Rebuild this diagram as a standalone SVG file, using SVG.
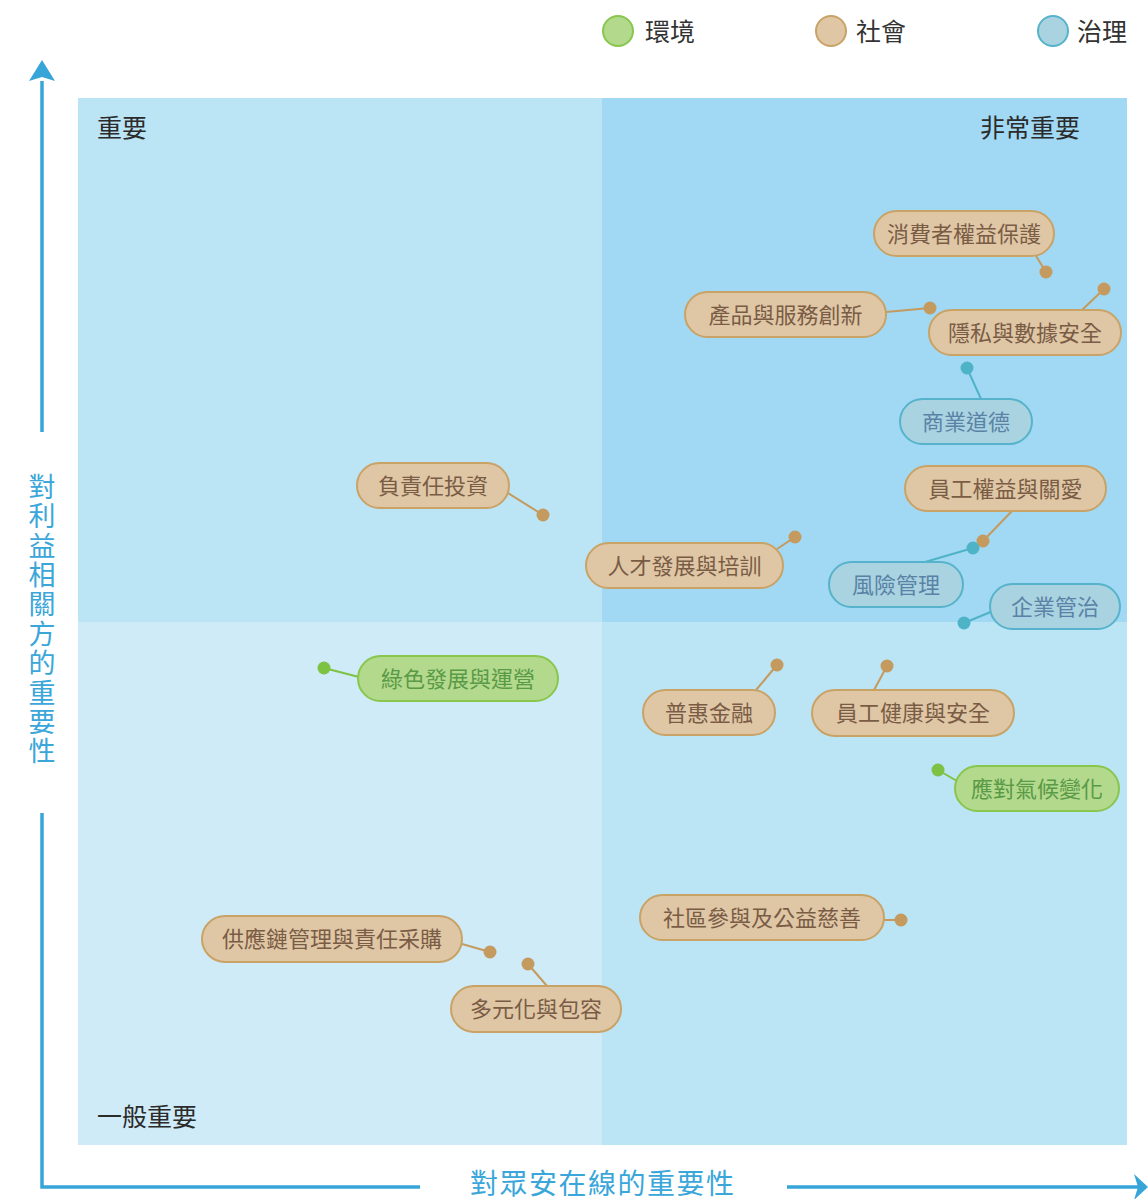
<svg xmlns="http://www.w3.org/2000/svg" width="1148" height="1199" viewBox="0 0 1148 1199">
<defs>
<style>
text{font-family:"Noto Sans CJK TC","Noto Sans CJK SC",sans-serif}
.soc rect{fill:#dfc7a6;stroke:#c9a266;stroke-width:2}
.soc text{fill:#7a5c45}
.gov rect{fill:#a9d3e0;stroke:#56b3cb;stroke-width:2}
.gov text{fill:#5a82a6}
.env rect{fill:#b3d98d;stroke:#88c64e;stroke-width:2}
.env text{fill:#5a9a47}
.pill text{font-size:22px;text-anchor:middle}
.lsoc{stroke:#c49a5e;stroke-width:2;fill:none}
.lgov{stroke:#4fb3c8;stroke-width:2;fill:none}
.lenv{stroke:#7dc242;stroke-width:2;fill:none}
.dsoc{fill:#c49a5e}
.dgov{fill:#4fb3c8}
.denv{fill:#7dc242}
.ql{font-size:25px;fill:#2b2b2b}
.lg{font-size:25px;fill:#333333}
.axv{font-size:27px;fill:#3aa6d9;writing-mode:vertical-rl;text-orientation:upright;letter-spacing:2.4px}
.axl{stroke:#37a5d8;stroke-width:3.5;fill:none}
</style>
</defs>
<rect width="1148" height="1199" fill="#ffffff"/>
<g id="quadrants">
<rect x="78" y="98" width="524" height="524" fill="#bbe4f5"/>
<rect x="602" y="98" width="525" height="524" fill="#a1d8f4"/>
<rect x="78" y="622" width="524" height="523" fill="#cfebf7"/>
<rect x="602" y="622" width="525" height="523" fill="#bbe4f5"/>
<text class="ql" x="97" y="137">重要</text>
<text class="ql" x="1080" y="137" text-anchor="end">非常重要</text>
<text class="ql" x="97" y="1126">一般重要</text>
</g>
<g id="legend">
<circle cx="618" cy="31" r="15" fill="#b3d98d" stroke="#88c64e" stroke-width="2"/>
<text class="lg" x="645" y="41">環境</text>
<circle cx="831" cy="31" r="15" fill="#dfc7a6" stroke="#c9a266" stroke-width="2"/>
<text class="lg" x="856" y="41">社會</text>
<circle cx="1053" cy="31" r="15" fill="#a9d3e0" stroke="#56b3cb" stroke-width="2"/>
<text class="lg" x="1077" y="41">治理</text>
</g>
<g id="axes">
<path class="axl" d="M42 81 V432 M42 813 V1187 H420 M787 1187 H1138"/>
<polygon points="42,60 55,81 42,77 29,81" fill="#37a5d8"/>
<polygon points="1148,1187 1134,1174 1138,1187 1134,1200" fill="#37a5d8"/>
<text class="axv" x="42" y="473">對利益相關方的重要性</text>
<text x="470" y="1194" font-size="28" fill="#3aa6d9" letter-spacing="1.5">對眾安在線的重要性</text>
</g>
<g id="connectors">
<line class="lsoc" x1="1036" y1="256" x2="1046" y2="272"/><circle class="dsoc" cx="1046" cy="272" r="6.5"/>
<line class="lsoc" x1="886" y1="312" x2="930" y2="308"/><circle class="dsoc" cx="930" cy="308" r="6.5"/>
<line class="lsoc" x1="1082" y1="310" x2="1104" y2="289"/><circle class="dsoc" cx="1104" cy="289" r="6.5"/>
<line class="lgov" x1="981" y1="399" x2="967" y2="368"/><circle class="dgov" cx="967" cy="368" r="6.5"/>
<line class="lsoc" x1="508" y1="493" x2="543" y2="515"/><circle class="dsoc" cx="543" cy="515" r="6.5"/>
<line class="lsoc" x1="1012" y1="511" x2="983" y2="541"/><circle class="dsoc" cx="983" cy="541" r="6.5"/>
<line class="lsoc" x1="777" y1="549" x2="795" y2="537"/><circle class="dsoc" cx="795" cy="537" r="6.5"/>
<line class="lgov" x1="925" y1="562" x2="973" y2="548"/><circle class="dgov" cx="973" cy="548" r="6.5"/>
<line class="lgov" x1="993" y1="611" x2="964" y2="623"/><circle class="dgov" cx="964" cy="623" r="6.5"/>
<line class="lenv" x1="359" y1="677" x2="324" y2="668"/><circle class="denv" cx="324" cy="668" r="6.5"/>
<line class="lsoc" x1="756" y1="690" x2="777" y2="665"/><circle class="dsoc" cx="777" cy="665" r="6.5"/>
<line class="lsoc" x1="874" y1="690" x2="887" y2="666"/><circle class="dsoc" cx="887" cy="666" r="6.5"/>
<line class="lenv" x1="957" y1="781" x2="938" y2="770"/><circle class="denv" cx="938" cy="770" r="6.5"/>
<line class="lsoc" x1="884" y1="920" x2="901" y2="920"/><circle class="dsoc" cx="901" cy="920" r="6.5"/>
<line class="lsoc" x1="462" y1="944" x2="490" y2="952"/><circle class="dsoc" cx="490" cy="952" r="6.5"/>
<line class="lsoc" x1="547" y1="986" x2="528" y2="964"/><circle class="dsoc" cx="528" cy="964" r="6.5"/>
</g>
<g id="n1" class="pill soc"><rect x="874" y="211" width="180" height="45" rx="22.5"/><text x="964" y="242">消費者權益保護</text></g>
<g id="n2" class="pill soc"><rect x="685" y="292" width="201" height="45" rx="22.5"/><text x="785.5" y="323">產品與服務創新</text></g>
<g id="n3" class="pill soc"><rect x="929" y="310" width="192" height="45" rx="22.5"/><text x="1025" y="341">隱私與數據安全</text></g>
<g id="n4" class="pill gov"><rect x="900" y="399" width="132" height="45" rx="22.5"/><text x="966" y="430">商業道德</text></g>
<g id="n5" class="pill soc"><rect x="357" y="463" width="152" height="45" rx="22.5"/><text x="433" y="494">負責任投資</text></g>
<g id="n6" class="pill soc"><rect x="905" y="466" width="201" height="45" rx="22.5"/><text x="1005.5" y="497">員工權益與關愛</text></g>
<g id="n7" class="pill soc"><rect x="586" y="543" width="197" height="45" rx="22.5"/><text x="684.5" y="574">人才發展與培訓</text></g>
<g id="n8" class="pill gov"><rect x="829" y="562" width="134" height="45" rx="22.5"/><text x="896" y="593">風險管理</text></g>
<g id="n9" class="pill gov"><rect x="990" y="584" width="130" height="45" rx="22.5"/><text x="1055" y="615">企業管治</text></g>
<g id="n10" class="pill env"><rect x="358" y="656" width="200" height="45" rx="22.5"/><text x="458" y="687">綠色發展與運營</text></g>
<g id="n11" class="pill soc"><rect x="643" y="690" width="132" height="45" rx="22.5"/><text x="709" y="721">普惠金融</text></g>
<g id="n12" class="pill soc"><rect x="812" y="690" width="202" height="46" rx="23"/><text x="913" y="721">員工健康與安全</text></g>
<g id="n13" class="pill env"><rect x="955" y="766" width="164" height="45" rx="22.5"/><text x="1037" y="797">應對氣候變化</text></g>
<g id="n14" class="pill soc"><rect x="640" y="895" width="244" height="45" rx="22.5"/><text x="762" y="926">社區參與及公益慈善</text></g>
<g id="n15" class="pill soc"><rect x="202" y="916" width="260" height="46" rx="23"/><text x="332" y="947">供應鏈管理與責任采購</text></g>
<g id="n16" class="pill soc"><rect x="451" y="986" width="170" height="46" rx="23"/><text x="536" y="1017">多元化與包容</text></g>
</svg>
